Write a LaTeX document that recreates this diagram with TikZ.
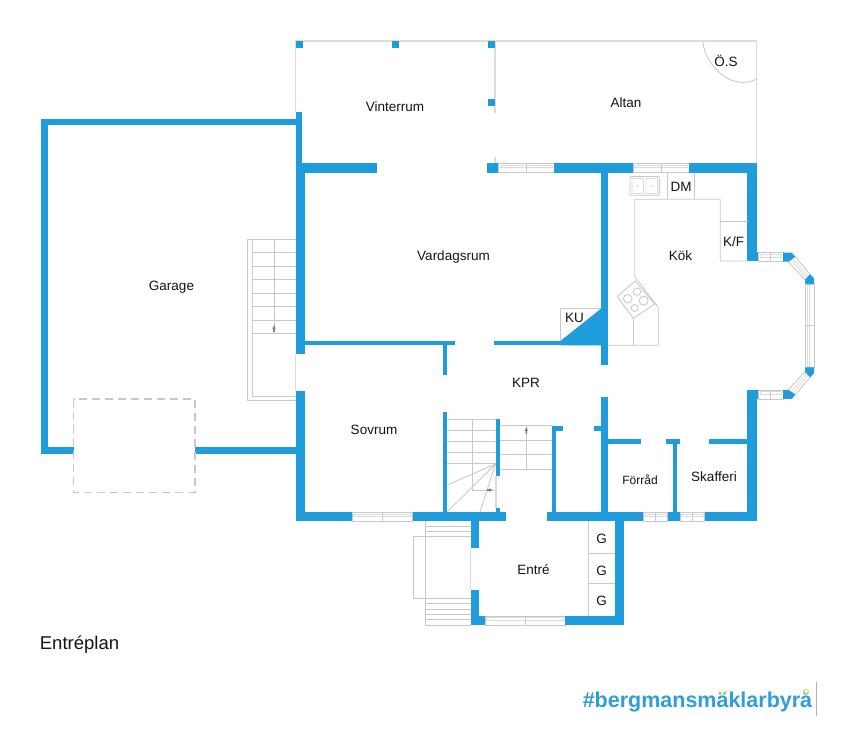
\documentclass[tikz,border=0pt]{standalone}
\usepackage{fontspec}
\setmainfont{Liberation Sans}
\definecolor{wallblue}{HTML}{1E9CDC}
\definecolor{logoblue}{HTML}{2E9FD8}
\definecolor{logoyellow}{HTML}{F2DE5C}
\definecolor{fine}{HTML}{C8C8C8}
\definecolor{pale}{HTML}{DCDCDC}
\tikzset{
  wall/.style={fill=wallblue,draw=none},
  thin line/.style={draw=fine,line width=0.85pt},
  outline/.style={draw=pale,line width=1.2pt},
  room/.style={inner sep=0pt,text=black!92,font=\fontsize{13.5}{16}\selectfont},
  smallroom/.style={room,font=\fontsize{12}{14}\selectfont},
}
\newcommand\wl[4]{\fill[wall] (#1,#2) rectangle (#3,#4);}
\newcommand\winh[4]{%
  \draw[thin line] (#1,#3) rectangle (#2,#4);
  \draw[draw=pale,line width=0.9pt] ({#1+1.5},{#3+1.9}) rectangle ({#2-1.5},{#3+4.4});
  \draw[thin line] ({(#1+#2)/2},#3) -- ({(#1+#2)/2},#4);}
\begin{document}
\begin{tikzpicture}[x=1pt,y=-1pt]
\useasboundingbox (0,0) rectangle (855,735);
\fill[white] (0,0) rectangle (855,735);
% terrace outlines
\draw[outline] (295.7,112) -- (295.7,41) -- (756.7,41) -- (756.7,163.5);
\draw[outline] (495,41) -- (495,112.7);
\draw[outline] (495,156.7) -- (495,163.5);
\draw[thin line] (702.7,41) .. controls (705,66) and (732,92) .. (756.7,79);
\draw[outline] (295.7,354) -- (295.7,390.7);
% posts
\wl{295.7}{41}{302.7}{47.7}
\wl{392}{41}{398.7}{47.7}
\wl{488.3}{41}{495}{47.7}
\wl{488.3}{99}{495}{105.7}
% garage
\wl{41}{119}{295.7}{125.3}
\wl{41}{119}{47.7}{454}
\wl{41}{447.3}{74}{454}
\wl{195}{447.3}{296}{454}
\draw[draw=fine,line width=1.1pt,dash pattern=on 8pt off 5pt] (73.7,399) rectangle (195,492.3);
% external stairs at garage
\draw[thin line] (295.7,239.3) -- (247.7,239.3) -- (247.7,400.7) -- (295.7,400.7);
\draw[thin line] (252.3,239.3) -- (252.3,396) -- (295.7,396);
\foreach \yy in {252.7,266.3,279.7,293.3,306.7,320.3,333.3}
  \draw[thin line] (252.3,\yy) -- (295.7,\yy);
\draw[thin line] (274,239.3) -- (274,333.3);
\fill[gray] (274,325) -- (275.7,329) -- (274.8,329) -- (274.8,332) -- (273.2,332) -- (273.2,329) -- (272.3,329) -- cycle;
% outer walls
\wl{295.7}{112}{302.3}{164}
\wl{295.7}{163.3}{304.7}{354}
\wl{295.7}{390.7}{304.7}{521}
\wl{304}{163.3}{377.3}{172.7}
\wl{486.7}{163.3}{498.7}{172.7}
\winh{498.7}{554}{163.3}{172.7}
\wl{554}{163.3}{633.3}{172.7}
\winh{633.3}{689}{163.3}{172.7}
\wl{689}{163.3}{756.7}{172.7}
\wl{747.3}{172}{756.7}{260.7}
\wl{747.3}{251.7}{758.7}{261}
\wl{747.3}{390}{756.7}{521}
\wl{747.3}{390}{758.7}{399}
% bay window
\winh{758.7}{783}{252.7}{261.3}
\winh{758.7}{783}{390}{399}
\draw[thin line] (805.3,284) rectangle (814,367.3);
\draw[draw=pale,line width=0.9pt] (807.2,285.5) rectangle (809.7,366);
\draw[thin line] (805.3,325.7) -- (814,325.7);
\draw[thin line] (795.3,256.7) -- (810,274.3) -- (805,280) -- (788.3,261.7) -- cycle;
\draw[draw=pale,line width=0.9pt] (793.5,258.5) -- (807.8,276.3) (791.5,260) -- (806,278);
\draw[thin line] (795.3,394.7) -- (810,377.3) -- (805,371.7) -- (788.3,390) -- cycle;
\draw[draw=pale,line width=0.9pt] (793.5,392.9) -- (807.8,375) (791.5,391.5) -- (806,373.5);
\fill[wall] (783,252.7) -- (791.7,252.7) -- (795.3,256.7) -- (788.3,261.7) -- (783,261.7) -- cycle;
\fill[wall] (805,280) -- (810,274.3) -- (814,278.3) -- (814,284) -- (805.3,284) -- cycle;
\fill[wall] (805.3,367.3) -- (814,367.3) -- (814,373.3) -- (810,377.3) -- (805,371.7) -- cycle;
\fill[wall] (783,390) -- (788.3,390) -- (795.3,394.7) -- (791.7,399) -- (783,399) -- cycle;
% interior walls
\wl{601.3}{172}{608}{365}
\wl{601.3}{397.3}{608}{512.5}
\wl{593.7}{425.7}{602}{431}
\wl{304}{340.7}{455.3}{345.3}
\wl{443.3}{345}{447.3}{375}
\wl{443.3}{411.7}{447.3}{512.5}
\wl{494.3}{340.7}{561}{345.3}
\fill[wall] (560.7,340.7) -- (601.5,308.3) -- (601.5,345.3) -- (560.7,345.3) -- cycle;
\wl{496}{419}{500.3}{475.7}
\wl{496}{507.7}{500.3}{512.5}
\wl{552}{425.7}{556.3}{512.5}
\wl{552}{425.7}{563.3}{431}
\wl{607}{439.3}{640.7}{444}
\wl{666}{439.3}{680}{444}
\wl{672.7}{443}{677.3}{512.5}
\wl{708.7}{439.3}{748}{444}
% bottom walls
\wl{295.7}{512.3}{352}{521}
\winh{352}{412.7}{512.3}{521}
\wl{412.7}{512.3}{506}{521}
\wl{546.5}{512.3}{643.3}{521}
\winh{643.3}{667.7}{512.3}{521}
\wl{667.7}{512.3}{680}{521}
\winh{680}{704.7}{512.3}{521}
\wl{704.7}{512.3}{756.7}{521}
% entrance
\wl{470.7}{520}{479.3}{547.7}
\wl{470.7}{590.3}{479.3}{625}
\wl{470.7}{616}{485.3}{625}
\winh{485.3}{565.3}{616}{625}
\wl{565.3}{616}{624}{625}
\wl{615}{520}{624}{625}
\draw[outline] (470.7,547.7) -- (470.7,590.3);
\draw[thin line] (588.3,521) -- (588.3,616);
\draw[thin line] (588.3,553.3) -- (615,553.3);
\draw[thin line] (588.3,583.3) -- (615,583.3);
% entrance steps
\draw[thin line] (425.7,521) -- (425.7,625) -- (470.7,625);
\draw[thin line] (425.7,536.7) -- (413.7,536.7) -- (413.7,598.7) -- (425.7,598.7);
\foreach \yy in {526,531.7,536.7,598.7,603.3,609,614.3,619.7}
  \draw[thin line] (425.7,\yy) -- (470.7,\yy);
% inner stairs, turning flight
\draw[thin line] (447.3,419) -- (496,419);
\foreach \yy in {430,441.3,452.3,463.3}
  \draw[thin line] (447.3,\yy) -- (496,\yy);
\draw[thin line] (472.3,419) -- (472.3,490) -- (496,490);
\draw[thin line] (495.5,464) -- (447.3,485);
\draw[thin line] (495.5,464) -- (447.3,511.7);
\draw[thin line] (495.5,464) -- (480,511.7);
\draw[outline] (496,475.7) -- (496,507.7);
\fill[gray] (493,490) -- (489,488.3) -- (489,489.2) -- (487,489.2) -- (487,490.8) -- (489,490.8) -- (489,491.7) -- cycle;
% inner stairs, straight flight
\foreach \yy in {425.7,440,454.7,469.3}
  \draw[thin line] (500.3,\yy) -- (552,\yy);
\draw[thin line] (526.3,425.7) -- (526.3,469.3);
\fill[gray] (526.3,427) -- (528,431) -- (527.1,431) -- (527.1,434) -- (525.5,434) -- (525.5,431) -- (524.6,431) -- cycle;
% kitchen fittings
\draw[thin line] (560.7,340.7) -- (560.7,308.3) -- (601.3,308.3);
\draw[thin line] (667.7,172.7) -- (667.7,199.3);
\draw[thin line] (694.3,172.7) -- (694.3,199.3);
\draw[thin line] (747.5,261) -- (720.3,261) -- (720.3,199.3) -- (634.7,199.3) -- (634.7,276.7) -- (658.3,307.3) -- (658.3,345.3) -- (608,345.3);
\draw[thin line] (720.3,221.7) -- (747.5,221.7);
\draw[thin line] (633.3,318.3) -- (633.3,345.3);
\draw[draw=fine,line width=0.9pt,rounded corners=1pt] (630,176.7) rectangle (659.3,195.3);
\draw[draw=pale,line width=0.8pt,rounded corners=1pt] (632,178.5) rectangle (643.5,193.5);
\draw[draw=pale,line width=0.8pt,rounded corners=1pt] (646,178.5) rectangle (657.5,193.5);
\fill[fine] (637.7,186) circle (0.9);
\fill[fine] (651.7,186) circle (0.9);
\draw[thin line,fill=white] (617.3,296.7) -- (635,281) -- (654.7,304) -- (633.3,318.3) -- cycle;
\draw[thin line] (627.7,298.7) circle (4.3);
\draw[thin line] (637,291.7) circle (3.7);
\draw[thin line] (643.7,300.7) circle (4.5);
\draw[thin line] (634.7,308) circle (3.5);
% labels
\node[room] (vinterrum) at (395,106.5) {Vinterrum};
\node[room] (altan) at (626,103) {Altan};
\node[room] (os) at (726,61) {Ö.S};
\node[room] (dm) at (681,187) {DM};
\node[room] (kf) at (733.5,242) {K/F};
\node[room] (kok) at (680.5,255.5) {Kök};
\node[room] (vardagsrum) at (453.5,257) {Vardagsrum};
\node[room] (garage) at (171.5,287) {Garage};
\node[room] (ku) at (574.5,317.5) {KU};
\node[room] (kpr) at (526,382.5) {KPR};
\node[room] (sovrum) at (374,429.5) {Sovrum};
\node[smallroom] (forrad) at (640,479.5) {Förråd};
\node[room] (skafferi) at (714,477) {Skafferi};
\node[room] (entre) at (533.5,569.5) {Entré};
\node[room] (g1) at (601.5,538.5) {G};
\node[room] (g2) at (601.5,571) {G};
\node[room] (g3) at (601.5,601) {G};
\node[inner sep=0pt,text=black!92,font=\fontsize{18.5}{22}\selectfont] (plan) at (79.5,644.5) {Entréplan};
\node[inner sep=0pt,text=logoblue,font=\fontsize{21.5}{26}\selectfont\bfseries] (logo) at (697.5,701) {\#bergmansmäklarbyrå};
\fill[logoyellow] (720,692) circle (1.7);
\fill[logoyellow] (725.6,692) circle (1.7);
\draw[logoyellow,line width=1pt,fill=white] (806.3,691.3) circle (2);
\draw[draw=gray!60,line width=0.7pt] (816.5,682) -- (816.5,716);
\end{tikzpicture}
\end{document}
